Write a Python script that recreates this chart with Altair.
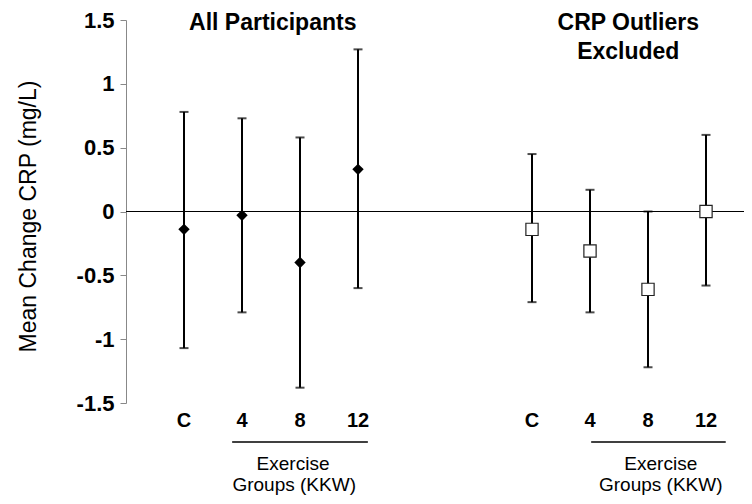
import altair as alt
import pandas as pd

# ---- data ----
categories = ["C", "4", "8", "12"]
left_pos = [0, 1, 2, 3]
right_pos = [6, 7, 8, 9]

all_mean = [-0.14, -0.03, -0.40, 0.33]
all_upper = [0.78, 0.73, 0.58, 1.27]
all_lower = [-1.07, -0.79, -1.38, -0.60]

excl_mean = [-0.14, -0.31, -0.61, 0.00]
excl_upper = [0.45, 0.17, 0.00, 0.60]
excl_lower = [-0.71, -0.79, -1.22, -0.58]

y_ticks = [-1.5, -1.0, -0.5, 0.0, 0.5, 1.0, 1.5]

panel_titles = [("All Participants", 1.53, 3), ("CRP Outliers", 7.66, 3), ("Excluded", 7.66, 32)]
group_labels = [("Exercise", 1.88, 444), ("Groups (KKW)", 1.9, 465),
                ("Exercise", 8.22, 444), ("Groups (KKW)", 8.22, 465)]
underlines = [(0.83, 3.17), (7.02, 9.34)]

FONT = "Liberation Sans"

rows = []
for i, c in enumerate(categories):
    rows.append(dict(pos=left_pos[i], cat=c, mean=all_mean[i], lo=all_lower[i], hi=all_upper[i], grp="all"))
    rows.append(dict(pos=right_pos[i], cat=c, mean=excl_mean[i], lo=excl_lower[i], hi=excl_upper[i], grp="excl"))
df = pd.DataFrame(rows)

xscale = alt.Scale(domain=[-1, 9.655], nice=False, zero=False)
yscale = alt.Scale(domain=[-1.5, 1.5], nice=False, zero=False)
X = alt.X("pos:Q", scale=xscale, axis=None)

yaxis = alt.Axis(
    values=y_ticks, labelExpr="datum.value + ''", grid=False,
    labelFont=FONT, labelFontSize=22, labelFontWeight="bold", labelColor="black",
    labelPadding=6, labelFlush=False, labelOverlap=False,
    tickColor="#888888", tickSize=6, domainColor="#888888",
    title="Mean Change CRP (mg/L)", titleFont=FONT, titleFontSize=23,
    titleFontWeight="normal", titleColor="black", titleAngle=-90,
    titleX=-98, titleY=196, titleAlign="center", titleBaseline="middle",
)

base = alt.Chart(df)

zero_line = alt.Chart(pd.DataFrame({"z": [0.0]})).mark_rule(color="black", strokeWidth=1).encode(
    y=alt.Y("z:Q", scale=yscale, axis=yaxis)
)

bars = base.mark_rule(color="black", strokeWidth=2).encode(
    x=X, y=alt.Y("lo:Q", scale=yscale), y2="hi:Q"
)
cap_lo = base.mark_tick(orient="horizontal", color="black", thickness=2, size=9).encode(
    x=X, y=alt.Y("lo:Q", scale=yscale)
)
cap_hi = base.mark_tick(orient="horizontal", color="black", thickness=2, size=9).encode(
    x=X, y=alt.Y("hi:Q", scale=yscale)
)

pts_all = base.transform_filter("datum.grp == 'all'").mark_point(
    shape="diamond", filled=True, color="black", size=130, opacity=1
).encode(x=X, y=alt.Y("mean:Q", scale=yscale))

pts_excl = base.transform_filter("datum.grp == 'excl'").mark_point(
    shape="square", filled=True, fill="white", stroke="#222222", strokeWidth=1.2, size=150, opacity=1
).encode(x=X, y=alt.Y("mean:Q", scale=yscale))

cat_labels = base.mark_text(
    font=FONT, fontSize=20, fontWeight="bold", color="black", baseline="middle", align="center"
).encode(x=X, y=alt.value(401), text="cat:N")

tdf = pd.DataFrame(panel_titles, columns=["text", "pos", "py"])
titles = alt.Chart(tdf).mark_text(
    font=FONT, fontSize=23, fontWeight="bold", color="black", baseline="middle", align="center"
).encode(x=X, y=alt.Y("py:Q", scale=None), text="text:N")

gdf = pd.DataFrame(group_labels, columns=["text", "pos", "py"])
glabels = alt.Chart(gdf).mark_text(
    font=FONT, fontSize=19, color="black", baseline="middle", align="center"
).encode(x=X, y=alt.Y("py:Q", scale=None), text="text:N")

udf = pd.DataFrame(underlines, columns=["pos", "pos2"])
ulines = alt.Chart(udf).mark_rule(color="black", strokeWidth=1.5).encode(
    x=X, x2="pos2:Q", y=alt.value(422)
)

chart = alt.layer(
    zero_line, bars, cap_lo, cap_hi, pts_all, pts_excl, cat_labels, titles, glabels, ulines
).properties(
    width=618, height=383,
    autosize=alt.AutoSizeParams(type="none"),
    padding={"left": 118, "top": 12, "right": 0, "bottom": 93},
).configure_view(stroke=None).resolve_scale(y="shared")

chart.save("out.html", embed_options={"renderer": "svg", "actions": False})
